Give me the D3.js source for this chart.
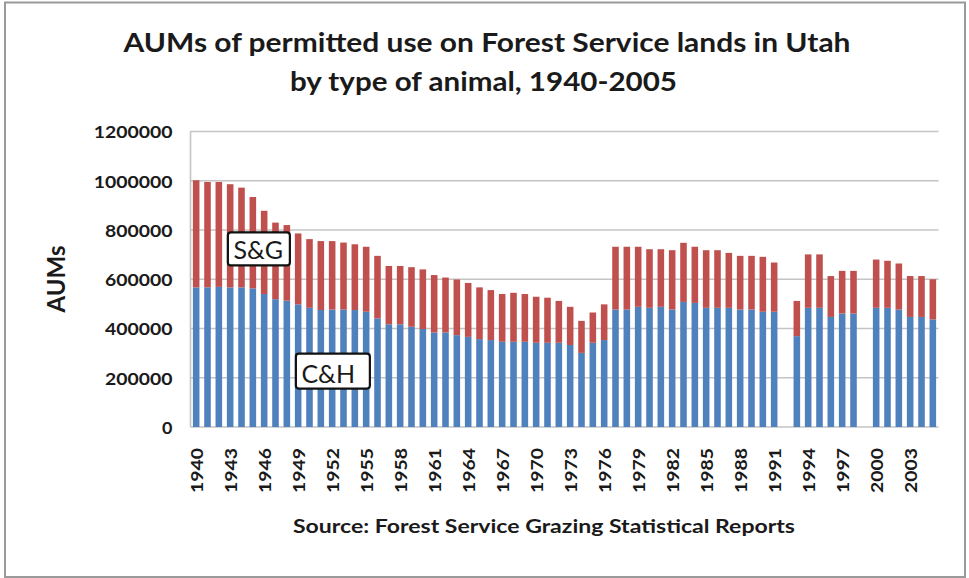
<!DOCTYPE html>
<html>
<head>
<meta charset="utf-8">
<script src="https://cdn.jsdelivr.net/npm/d3@7"></script>
<style>
  html, body { margin: 0; padding: 0; background: #fff; }
  svg { display: block; }
  text { font-family: Lato, "Open Sans", sans-serif; fill: #1a1a1a; }
</style>
</head>
<body>
<svg id="chart" width="969" height="578"></svg>
<script>
// Permitted AUMs by year; null = no report for that year
const years = d3.range(1940, 2006);

// Cattle & horses
const cattleHorses = [
  567000, 567000, 569000, 567000, 567000, 563000, 540000, 519000, 513000, 498000,
  484000, 475000, 477000, 477000, 475000, 468000, 441000, 417000, 417000, 407000,
  398000, 384000, 384000, 373000, 366000, 357000, 353000, 346000, 346000, 346000,
  342000, 342000, 342000, 333000, 301000, 342000, 353000, 477000, 477000, 488000,
  484000, 488000, 477000, 508000, 504000, 484000, 484000, 484000, 477000, 477000,
  468000, 468000, null,   369000, 484000, 484000, 447000, 461000, 461000, null,
  484000, 484000, 477000, 447000, 447000, 437000
];

// Sheep & goats
const sheepGoats = [
  435000, 428000, 426000, 419000, 405000, 371000, 338000, 311000, 307000, 288000,
  279000, 280000, 278000, 272000, 267000, 264000, 254000, 237000, 237000, 242000,
  242000, 233000, 223000, 226000, 219000, 210000, 203000, 194000, 199000, 194000,
  187000, 183000, 170000, 155000, 130000, 123000, 145000, 255000, 255000, 244000,
  238000, 234000, 241000, 240000, 228000, 234000, 234000, 223000, 218000, 218000,
  223000, 200000, null,   143000, 217000, 217000, 166000, 173000, 173000, null,
  196000, 191000, 187000, 166000, 166000, 163000
];

const yTicks = [0, 200000, 400000, 600000, 800000, 1000000, 1200000];
const xTickYears = d3.range(1940, 2006, 3);

const titleLines = [
  "AUMs of permitted use on Forest Service lands in Utah",
  "by type of animal, 1940-2005"
];
const yAxisTitle = "AUMs";
const sourceNote = "Source: Forest Service Grazing Statistical Reports";

// In-plot series labels, anchored at a year / value
const seriesLabels = [
  { text: "S&G", year: 1943, value: 790000, w: 62, h: 33 },
  { text: "C&H", year: 1949, value: 298000, w: 74, h: 35 }
];

const colors = { ch: "#4f81bd", sg: "#c0504d" };

const svg = d3.select("#chart");
const W = 969, H = 578;

// outer frame
svg.append("rect")
  .attr("x", 5).attr("y", 2.5).attr("width", 960).attr("height", 574.5)
  .attr("fill", "#fff").attr("stroke", "#9a9a9a").attr("stroke-width", 2);

const plot = { left: 190.5, right: 938.5, top: 131.5, bottom: 427 };

const x = d3.scaleBand()
  .domain(years)
  .range([plot.left, plot.right])
  .paddingInner(0.42)
  .paddingOuter(0.21);

const y = d3.scaleLinear()
  .domain([0, 1200000])
  .range([plot.bottom, plot.top]);

// gridlines
svg.append("g")
  .selectAll("line")
  .data(yTicks)
  .join("line")
  .attr("x1", plot.left).attr("x2", plot.right)
  .attr("y1", d => y(d)).attr("y2", d => y(d))
  .attr("stroke", "#c4c4c4").attr("stroke-width", 1.6);

// left axis line
svg.append("line")
  .attr("x1", plot.left).attr("x2", plot.left)
  .attr("y1", plot.top).attr("y2", plot.bottom)
  .attr("stroke", "#c4c4c4").attr("stroke-width", 1.6);

// stacked bars
const rows = years.map((yr, i) => ({ year: yr, ch: cattleHorses[i], sg: sheepGoats[i] }));
const stacked = d3.stack()
  .keys(["ch", "sg"])
  .value((d, k) => d[k] == null ? 0 : d[k])(rows);

const barsG = svg.append("g");
stacked.forEach(layer => {
  barsG.append("g")
    .attr("fill", colors[layer.key])
    .selectAll("rect")
    .data(layer.filter(d => d.data[layer.key] != null))
    .join("rect")
    .attr("x", d => x(d.data.year))
    .attr("width", x.bandwidth())
    .attr("y", d => y(d[1]))
    .attr("height", d => y(d[0]) - y(d[1]));
});

// y tick labels
const yAxis = d3.axisLeft(y).tickValues(yTicks).tickFormat(d3.format("d")).tickSize(0).tickPadding(18);
const yg = svg.append("g").attr("transform", `translate(${plot.left},0)`).call(yAxis);
yg.select(".domain").remove();
yg.selectAll("text")
  .attr("font-family", "Lato, 'Open Sans', sans-serif")
  .attr("font-size", 17).attr("font-weight", "bold").attr("fill", "#1a1a1a")
  .attr("dy", "0.38em")
  .attr("textLength", d => String(d).length * 11.4 - 1)
  .attr("lengthAdjust", "spacingAndGlyphs");

// x tick labels (rotated)
svg.append("g")
  .selectAll("text")
  .data(xTickYears)
  .join("text")
  .attr("transform", d => `translate(${x(d) + x.bandwidth() / 2 + 0.5},${plot.bottom + 21}) rotate(-90)`)
  .attr("text-anchor", "end")
  .attr("dy", "0.36em")
  .attr("font-size", 17).attr("font-weight", "bold")
  .attr("textLength", 45).attr("lengthAdjust", "spacingAndGlyphs")
  .text(d => d);

// title
svg.append("text")
  .attr("x", 487).attr("y", 52).attr("text-anchor", "middle")
  .attr("font-size", 26).attr("font-weight", "bold")
  .attr("textLength", 727).attr("lengthAdjust", "spacingAndGlyphs")
  .text(titleLines[0]);
svg.append("text")
  .attr("x", 483.5).attr("y", 90.5).attr("text-anchor", "middle")
  .attr("font-size", 26).attr("font-weight", "bold")
  .attr("textLength", 387).attr("lengthAdjust", "spacingAndGlyphs")
  .text(titleLines[1]);

// y axis title
svg.append("text")
  .attr("transform", "translate(65,279) rotate(-90)")
  .attr("text-anchor", "middle")
  .attr("font-size", 24).attr("font-weight", "bold")
  .attr("textLength", 67).attr("lengthAdjust", "spacingAndGlyphs")
  .text(yAxisTitle);

// source note
svg.append("text")
  .attr("x", 544).attr("y", 533).attr("text-anchor", "middle")
  .attr("font-size", 18).attr("font-weight", "bold")
  .attr("textLength", 502).attr("lengthAdjust", "spacingAndGlyphs")
  .text(sourceNote);

// series label boxes
const lab = svg.append("g").selectAll("g")
  .data(seriesLabels)
  .join("g")
  .attr("transform", d => `translate(${x(d.year) + 1},${y(d.value)})`);
lab.append("rect")
  .attr("width", d => d.w).attr("height", d => d.h)
  .attr("rx", 3)
  .attr("fill", "#fff").attr("stroke", "#111").attr("stroke-width", 2.2);
lab.append("text")
  .attr("x", 5.5).attr("y", d => d.h - 6)
  .attr("font-size", 25)
  .text(d => d.text);
</script>
</body>
</html>
